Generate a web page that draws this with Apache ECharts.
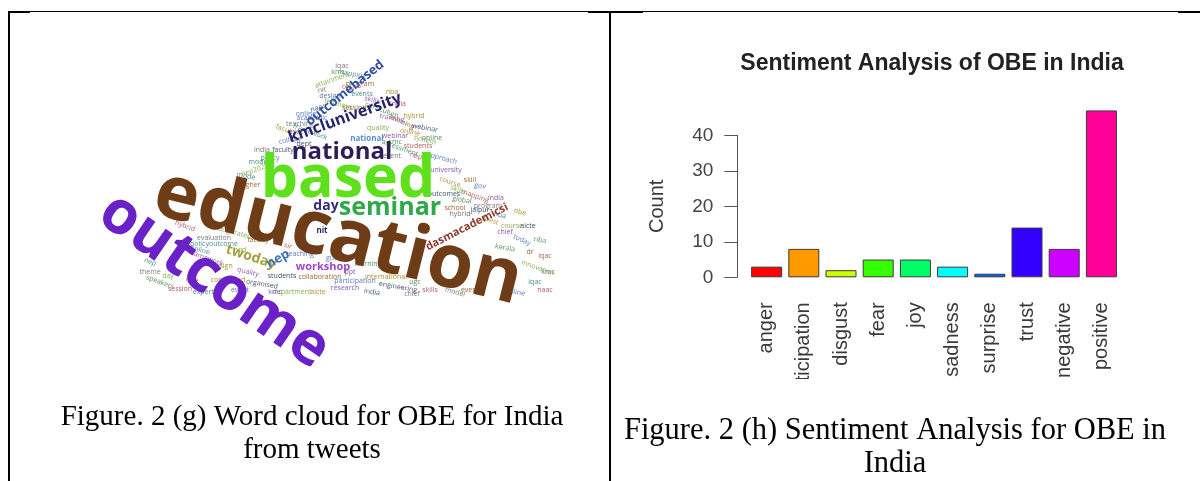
<!DOCTYPE html>
<html>
<head>
<meta charset="utf-8">
<script src="https://cdn.jsdelivr.net/npm/echarts@6/dist/echarts.min.js"></script>
<style>
  html, body { margin: 0; padding: 0; background: #fff; }
  #chart { width: 1200px; height: 481px; }
</style>
</head>
<body>
<div id="chart"></div>
<script>
// sentiment bar chart
const sentiments = ['anger', 'anticipation', 'disgust', 'fear', 'joy', 'sadness', 'surprise', 'trust', 'negative', 'positive'];
const sentimentCounts = [3, 8, 2, 5, 5, 3, 1, 14, 8, 47];
const sentimentColours = ['#ff0000', '#ff9900', '#ccff00', '#33ff00', '#00ff66', '#00ffff', '#0066ff', '#3300ff', '#cc00ff', '#ff0099'];

// word cloud: main words, their weight (drawn as font px), placement [x, y, angle]
const cloudWords = ['outcome', 'education', 'based', 'national', 'seminar', 'kmcluniversity', 'outcomebased',
  'day', 'twoday', 'nep', 'workshop', 'dasmacademicsi', 'national', 'nit'];
const cloudWeights = [60, 75, 59, 24, 25, 16, 13, 14, 14, 13, 11, 11, 8, 8];
const cloudPlace = [[214, 281, -34.5], [338, 238, -14], [348, 180, 0], [342, 152, 0], [390, 208, 0],
  [345, 118, 20], [345, 93, 39], [326, 206, 0], [251, 257, -18], [278, 259, 30], [323, 267, 0],
  [467, 227, 27], [367, 139, 0], [322, 231, 0]];
const cloudColours = ['#6a22c8', '#6e3c16', '#5fe01c', '#2d1e5a', '#2fa84a', '#26236e', '#2f4f9f',
  '#2f2f7a', '#a3a23d', '#3f6fb5', '#9a47c8', '#8c3b2d', '#5a8fd0', '#2d1e5a'];

// the small background words of the cloud
const fillerWords = ['iqac', 'mapping', 'attainment', 'program', 'design', 'skills', 'nba', 'naac', 'curriculum', 'india',
  'teaching', 'framework', 'quality', 'learning', 'college', 'webinar', 'online', 'faculty', 'assessment', 'students',
  'event', 'policy', 'nep2020', 'higher', 'approach', 'university', 'course', 'outcomes', 'global', 'hybrid',
  'evaluation', 'policyoutcome', 'inaugurated', 'faculty', 'teaching', 'quality', 'conducted', 'organised', 'speakers', 'session',
  'theme', 'experts', 'department', 'collaboration', 'participation', 'research', 'international', 'engineering', 'learning', 'skills',
  'model', 'iqac', 'innovation', 'dr', 'today', 'chief', 'guest', 'jaipur', 'kerala', 'naac',
  'hybrid', 'mode', 'system', 'school', 'online', 'exec', 'hybrid', 'webinar', 'online', 'mapping',
  'program', 'nba', 'course', 'event', 'online', 'framework', 'design', 'students',
  'kmc', 'obe', 'nit', 'events', 'teachers', 'sessions', 'academic', 'training', 'faculty', 'dept',
  'kmc', 'nep', 'india', 'mode', 'skills', 'skill', 'gov', 'india', 'obe', 'aicte',
  'nba', 'iqac', 'kmc', 'nep', 'day', 'obe', 'event', 'kmc', 'aicte', 'india',
  'ugc', 'two', 'chief', 'online', 'hod', 'sir', 'guest', 'ppt'];
const fillerPlace = [[342, 66, 0], [352, 74, -10], [332, 80, 20], [360, 84, 0], [330, 96, 0], [372, 100, -15], [392, 92, 0], [318, 108, 15], [382, 110, -20], [398, 104, 0],
  [300, 124, 0], [310, 132, -20], [378, 128, 0], [402, 122, -25], [290, 140, 10], [395, 136, 0], [410, 132, -10], [283, 150, 0], [400, 148, -20], [418, 146, 0],
  [392, 156, 0], [270, 158, 0], [255, 170, 20], [250, 185, 0], [442, 158, -15], [446, 170, 0], [450, 182, -20], [444, 194, 0], [462, 200, -10], [185, 226, -20],
  [214, 238, 0], [214, 244, 0], [232, 232, -15], [258, 240, 0], [300, 254, 0], [248, 272, -15], [228, 280, 0], [262, 284, -10], [160, 282, -20], [180, 289, 0],
  [150, 272, 0], [205, 292, 0], [292, 292, 0], [320, 277, 0], [355, 281, 0], [345, 288, 0], [386, 277, 0], [398, 287, -10], [368, 264, 0], [430, 290, 0],
  [455, 292, -15], [535, 282, 0], [538, 268, -20], [530, 252, 0], [522, 240, -25], [505, 232, 0], [490, 220, -20], [480, 210, 0], [505, 248, -10], [545, 290, 0],
  [460, 214, 0], [258, 162, 0], [425, 140, -15], [455, 208, 0], [306, 114, 0], [296, 132, 0], [414, 116, 0], [425, 128, -10], [432, 138, 0], [475, 196, -20],
  [488, 206, 0], [500, 215, -15], [512, 226, 0], [470, 290, 0], [515, 292, -10], [206, 258, -20], [222, 266, 0], [282, 276, 0],
  [338, 72, 0], [348, 88, -20], [322, 90, 10], [362, 94, 0], [338, 104, -15], [356, 108, 0], [312, 118, 0], [392, 118, -10], [286, 130, -20], [304, 144, 0],
  [395, 142, 0], [416, 156, -15], [262, 150, 0], [246, 176, -10], [458, 190, -20], [470, 180, 0], [480, 186, -10], [496, 198, 0], [520, 212, -15], [528, 226, 0],
  [540, 240, -10], [545, 256, 0], [548, 272, 0], [150, 262, -20], [168, 276, 0], [192, 280, -10], [240, 290, 0], [275, 292, 0], [318, 292, 0], [372, 292, -10],
  [415, 282, 0], [445, 282, -15], [412, 294, 0], [200, 250, -15], [240, 250, 0], [288, 246, -20], [335, 258, 0], [350, 272, 0]];
const fillerPalette = ['#7a7a7a', '#4a8f90', '#8aae50', '#9a6a30', '#5a7ac0', '#8a5ab0', '#b09030', '#405070', '#509060', '#b06060'];

const captionLeft = ['Figure. 2 (g) Word cloud for OBE for India', 'from tweets'];
const captionRight = ['Figure. 2 (h) Sentiment Analysis for OBE in', 'India'];
const chartTitle = 'Sentiment Analysis of OBE in India';

const fillerData = fillerWords.map((w, i) => ({
  name: w,
  value: [fillerPlace[i][0], fillerPlace[i][1]],
  label: { rotate: fillerPlace[i][2], fontSize: 7, color: fillerPalette[i % fillerPalette.length], fontWeight: 'normal' }
}));
const cloudData = cloudWords.map((w, i) => ({
  name: w,
  value: [cloudPlace[i][0], cloudPlace[i][1]],
  label: { rotate: cloudPlace[i][2], fontSize: cloudWeights[i], color: cloudColours[i] }
}));

const cloudLabel = {
  show: true, position: 'inside', formatter: '{b}', opacity: 1,
  fontFamily: 'Open Sans', fontWeight: 'bold', align: 'center', verticalAlign: 'middle'
};

const serif = 'Liberation Serif';
const sans = 'Liberation Sans';

const option = {
  animation: false,
  grid: [
    { left: 0, top: 0, width: 600, height: 400 },
    { left: 748, right: 80, top: 135.3, bottom: 203.7 }
  ],
  xAxis: [
    { gridIndex: 0, type: 'value', min: 0, max: 600, show: false },
    {
      gridIndex: 1, type: 'category', data: sentiments,
      axisLine: { show: false }, axisTick: { show: false },
      axisLabel: { interval: 0, rotate: 90, margin: 25, fontSize: 20, color: '#3a3a3a', fontFamily: sans }
    }
  ],
  yAxis: [
    { gridIndex: 0, type: 'value', min: 0, max: 400, inverse: true, show: false },
    {
      gridIndex: 1, type: 'value', min: 0, max: 40, interval: 10, offset: 10.7,
      name: 'Count', nameLocation: 'middle', nameGap: 70,
      nameTextStyle: { fontSize: 20, color: '#3a3a3a', fontFamily: sans },
      axisLine: { show: true, lineStyle: { color: '#555', width: 1 } },
      axisTick: { show: true, length: 13, lineStyle: { color: '#555', width: 1 } },
      axisLabel: { fontSize: 19, color: '#444', margin: 24, fontFamily: sans },
      splitLine: { show: false }
    }
  ],
  series: [
    {
      type: 'scatter', xAxisIndex: 0, yAxisIndex: 0, symbolSize: 1, silent: true,
      itemStyle: { color: 'transparent', opacity: 1 }, label: cloudLabel, data: fillerData, z: 2
    },
    {
      type: 'scatter', xAxisIndex: 0, yAxisIndex: 0, symbolSize: 1, silent: true,
      itemStyle: { color: 'transparent', opacity: 1 }, label: cloudLabel, data: cloudData, z: 3
    },
    {
      type: 'bar', xAxisIndex: 1, yAxisIndex: 1, barWidth: 31, clip: false, silent: true,
      data: sentimentCounts.map((v, i) => ({
        value: v,
        itemStyle: { color: sentimentColours[i], borderColor: '#3a3a3a', borderWidth: 1 }
      }))
    }
  ],
  graphic: [
    // table rules
    { type: 'line', z: 100, shape: { x1: 8, y1: 11.5, x2: 1200, y2: 11.5 }, style: { stroke: '#000', lineWidth: 1 } },
    { type: 'rect', z: 100, shape: { x: 8, y: 11, width: 22, height: 2 }, style: { fill: '#000' } },
    { type: 'rect', z: 100, shape: { x: 588, y: 11, width: 55, height: 2 }, style: { fill: '#000' } },
    { type: 'rect', z: 100, shape: { x: 1178, y: 11, width: 22, height: 2 }, style: { fill: '#000' } },
    { type: 'rect', z: 100, shape: { x: 8, y: 11, width: 2, height: 470 }, style: { fill: '#000' } },
    { type: 'rect', z: 100, shape: { x: 609, y: 11, width: 2, height: 470 }, style: { fill: '#000' } },
    // bottom of the pasted R plot is cut off
    { type: 'rect', z: 99, shape: { x: 612, y: 379, width: 588, height: 102 }, style: { fill: '#fff' } },
    // plot title
    { type: 'text', z: 101, x: 932, y: 64, style: { text: chartTitle, fontSize: 23, fontWeight: 'bold', fontFamily: sans, fill: '#222', align: 'center', verticalAlign: 'middle' } },
    // captions
    { type: 'text', z: 101, x: 312, y: 417, style: { text: captionLeft[0], fontSize: 29, fontFamily: serif, fill: '#000', align: 'center', verticalAlign: 'middle' } },
    { type: 'text', z: 101, x: 312, y: 450, style: { text: captionLeft[1], fontSize: 29, fontFamily: serif, fill: '#000', align: 'center', verticalAlign: 'middle' } },
    { type: 'text', z: 101, x: 895, y: 431, style: { text: captionRight[0], fontSize: 30.5, fontFamily: serif, fill: '#000', align: 'center', verticalAlign: 'middle' } },
    { type: 'text', z: 101, x: 895, y: 464, style: { text: captionRight[1], fontSize: 30.5, fontFamily: serif, fill: '#000', align: 'center', verticalAlign: 'middle' } }
  ]
};

const chart = echarts.init(document.getElementById('chart'));
chart.setOption(option);
</script>
</body>
</html>
